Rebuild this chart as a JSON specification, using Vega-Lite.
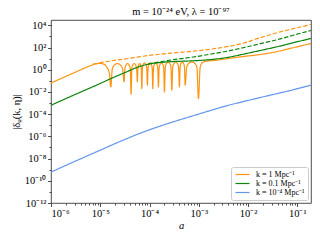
{
  "$schema": "https://vega.github.io/schema/vega-lite/v6.json",
  "autosize": {"type": "none"},
  "padding": {"left": 51, "top": 20, "right": 9, "bottom": 37},
  "width": 260,
  "height": 183,
  "title": {"text": "m = 10⁻²⁴ eV,  λ = 10⁻⁹⁷", "font": "Liberation Serif", "fontSize": 10.5, "fontWeight": "normal", "color": "black", "offset": 3},
  "data": {"values": [
    {"a": 1e-6, "delta": 0.0634, "k": "k = 1 Mpc⁻¹", "line": "solid"},
    {"a": 3.074e-6, "delta": 0.583, "k": "k = 1 Mpc⁻¹", "line": "solid"},
    {"a": 6.204e-6, "delta": 2.244, "k": "k = 1 Mpc⁻¹", "line": "solid"},
    {"a": 7.841e-6, "delta": 3.266, "k": "k = 1 Mpc⁻¹", "line": "solid"},
    {"a": 9.907e-6, "delta": 3.70, "k": "k = 1 Mpc⁻¹", "line": "solid"},
    {"a": 1.195e-5, "delta": 3.13, "k": "k = 1 Mpc⁻¹", "line": "solid"},
    {"a": 1.375e-5, "delta": 1.578, "k": "k = 1 Mpc⁻¹", "line": "solid"},
    {"a": 1.531e-5, "delta": 0.484, "k": "k = 1 Mpc⁻¹", "line": "solid"},
    {"a": 1.634e-5, "delta": 0.0282, "k": "k = 1 Mpc⁻¹", "line": "solid"},
    {"a": 1.762e-5, "delta": 1.28, "k": "k = 1 Mpc⁻¹", "line": "solid"},
    {"a": 1.971e-5, "delta": 2.82, "k": "k = 1 Mpc⁻¹", "line": "solid"},
    {"a": 2.232e-5, "delta": 3.62, "k": "k = 1 Mpc⁻¹", "line": "solid"},
    {"a": 2.526e-5, "delta": 2.82, "k": "k = 1 Mpc⁻¹", "line": "solid"},
    {"a": 2.826e-5, "delta": 1.28, "k": "k = 1 Mpc⁻¹", "line": "solid"},
    {"a": 3.046e-5, "delta": 0.0796, "k": "k = 1 Mpc⁻¹", "line": "solid"},
    {"a": 3.168e-5, "delta": 1.28, "k": "k = 1 Mpc⁻¹", "line": "solid"},
    {"a": 3.360e-5, "delta": 2.82, "k": "k = 1 Mpc⁻¹", "line": "solid"},
    {"a": 3.589e-5, "delta": 3.62, "k": "k = 1 Mpc⁻¹", "line": "solid"},
    {"a": 3.831e-5, "delta": 2.82, "k": "k = 1 Mpc⁻¹", "line": "solid"},
    {"a": 4.063e-5, "delta": 1.28, "k": "k = 1 Mpc⁻¹", "line": "solid"},
    {"a": 4.227e-5, "delta": 0.00621, "k": "k = 1 Mpc⁻¹", "line": "solid"},
    {"a": 4.380e-5, "delta": 1.28, "k": "k = 1 Mpc⁻¹", "line": "solid"},
    {"a": 4.618e-5, "delta": 2.82, "k": "k = 1 Mpc⁻¹", "line": "solid"},
    {"a": 4.898e-5, "delta": 3.62, "k": "k = 1 Mpc⁻¹", "line": "solid"},
    {"a": 5.196e-5, "delta": 2.82, "k": "k = 1 Mpc⁻¹", "line": "solid"},
    {"a": 5.477e-5, "delta": 1.28, "k": "k = 1 Mpc⁻¹", "line": "solid"},
    {"a": 5.676e-5, "delta": 0.0796, "k": "k = 1 Mpc⁻¹", "line": "solid"},
    {"a": 5.818e-5, "delta": 1.28, "k": "k = 1 Mpc⁻¹", "line": "solid"},
    {"a": 6.039e-5, "delta": 2.82, "k": "k = 1 Mpc⁻¹", "line": "solid"},
    {"a": 6.293e-5, "delta": 3.62, "k": "k = 1 Mpc⁻¹", "line": "solid"},
    {"a": 6.557e-5, "delta": 2.82, "k": "k = 1 Mpc⁻¹", "line": "solid"},
    {"a": 6.803e-5, "delta": 1.28, "k": "k = 1 Mpc⁻¹", "line": "solid"},
    {"a": 6.974e-5, "delta": 0.0202, "k": "k = 1 Mpc⁻¹", "line": "solid"},
    {"a": 7.196e-5, "delta": 1.45, "k": "k = 1 Mpc⁻¹", "line": "solid"},
    {"a": 7.543e-5, "delta": 3.20, "k": "k = 1 Mpc⁻¹", "line": "solid"},
    {"a": 7.950e-5, "delta": 4.10, "k": "k = 1 Mpc⁻¹", "line": "solid"},
    {"a": 8.378e-5, "delta": 3.20, "k": "k = 1 Mpc⁻¹", "line": "solid"},
    {"a": 8.785e-5, "delta": 1.45, "k": "k = 1 Mpc⁻¹", "line": "solid"},
    {"a": 9.064e-5, "delta": 0.0402, "k": "k = 1 Mpc⁻¹", "line": "solid"},
    {"a": 9.344e-5, "delta": 1.45, "k": "k = 1 Mpc⁻¹", "line": "solid"},
    {"a": 9.777e-5, "delta": 3.20, "k": "k = 1 Mpc⁻¹", "line": "solid"},
    {"a": 1.0285e-4, "delta": 4.10, "k": "k = 1 Mpc⁻¹", "line": "solid"},
    {"a": 1.082e-4, "delta": 3.20, "k": "k = 1 Mpc⁻¹", "line": "solid"},
    {"a": 1.132e-4, "delta": 1.45, "k": "k = 1 Mpc⁻¹", "line": "solid"},
    {"a": 1.167e-4, "delta": 0.0202, "k": "k = 1 Mpc⁻¹", "line": "solid"},
    {"a": 1.204e-4, "delta": 1.45, "k": "k = 1 Mpc⁻¹", "line": "solid"},
    {"a": 1.262e-4, "delta": 3.20, "k": "k = 1 Mpc⁻¹", "line": "solid"},
    {"a": 1.330e-4, "delta": 4.10, "k": "k = 1 Mpc⁻¹", "line": "solid"},
    {"a": 1.402e-4, "delta": 3.20, "k": "k = 1 Mpc⁻¹", "line": "solid"},
    {"a": 1.470e-4, "delta": 1.45, "k": "k = 1 Mpc⁻¹", "line": "solid"},
    {"a": 1.517e-4, "delta": 0.0282, "k": "k = 1 Mpc⁻¹", "line": "solid"},
    {"a": 1.569e-4, "delta": 1.45, "k": "k = 1 Mpc⁻¹", "line": "solid"},
    {"a": 1.650e-4, "delta": 3.20, "k": "k = 1 Mpc⁻¹", "line": "solid"},
    {"a": 1.746e-4, "delta": 4.10, "k": "k = 1 Mpc⁻¹", "line": "solid"},
    {"a": 1.847e-4, "delta": 3.20, "k": "k = 1 Mpc⁻¹", "line": "solid"},
    {"a": 1.942e-4, "delta": 1.45, "k": "k = 1 Mpc⁻¹", "line": "solid"},
    {"a": 2.008e-4, "delta": 0.01, "k": "k = 1 Mpc⁻¹", "line": "solid"},
    {"a": 2.094e-4, "delta": 1.79, "k": "k = 1 Mpc⁻¹", "line": "solid"},
    {"a": 2.228e-4, "delta": 3.94, "k": "k = 1 Mpc⁻¹", "line": "solid"},
    {"a": 2.388e-4, "delta": 5.05, "k": "k = 1 Mpc⁻¹", "line": "solid"},
    {"a": 2.559e-4, "delta": 3.94, "k": "k = 1 Mpc⁻¹", "line": "solid"},
    {"a": 2.724e-4, "delta": 1.79, "k": "k = 1 Mpc⁻¹", "line": "solid"},
    {"a": 2.840e-4, "delta": 0.01422, "k": "k = 1 Mpc⁻¹", "line": "solid"},
    {"a": 2.963e-4, "delta": 1.79, "k": "k = 1 Mpc⁻¹", "line": "solid"},
    {"a": 3.159e-4, "delta": 3.94, "k": "k = 1 Mpc⁻¹", "line": "solid"},
    {"a": 3.392e-4, "delta": 5.05, "k": "k = 1 Mpc⁻¹", "line": "solid"},
    {"a": 3.642e-4, "delta": 3.94, "k": "k = 1 Mpc⁻¹", "line": "solid"},
    {"a": 3.884e-4, "delta": 1.79, "k": "k = 1 Mpc⁻¹", "line": "solid"},
    {"a": 4.053e-4, "delta": 0.0282, "k": "k = 1 Mpc⁻¹", "line": "solid"},
    {"a": 4.184e-4, "delta": 1.79, "k": "k = 1 Mpc⁻¹", "line": "solid"},
    {"a": 4.391e-4, "delta": 3.94, "k": "k = 1 Mpc⁻¹", "line": "solid"},
    {"a": 4.632e-4, "delta": 5.05, "k": "k = 1 Mpc⁻¹", "line": "solid"},
    {"a": 4.884e-4, "delta": 3.94, "k": "k = 1 Mpc⁻¹", "line": "solid"},
    {"a": 5.126e-4, "delta": 1.79, "k": "k = 1 Mpc⁻¹", "line": "solid"},
    {"a": 5.292e-4, "delta": 0.0402, "k": "k = 1 Mpc⁻¹", "line": "solid"},
    {"a": 5.703e-4, "delta": 1.79, "k": "k = 1 Mpc⁻¹", "line": "solid"},
    {"a": 6.381e-4, "delta": 3.94, "k": "k = 1 Mpc⁻¹", "line": "solid"},
    {"a": 7.222e-4, "delta": 5.05, "k": "k = 1 Mpc⁻¹", "line": "solid"},
    {"a": 8.177e-4, "delta": 3.94, "k": "k = 1 Mpc⁻¹", "line": "solid"},
    {"a": 9.150e-4, "delta": 1.79, "k": "k = 1 Mpc⁻¹", "line": "solid"},
    {"a": 9.861e-4, "delta": 0.00254, "k": "k = 1 Mpc⁻¹", "line": "solid"},
    {"a": 1.068e-3, "delta": 1.68, "k": "k = 1 Mpc⁻¹", "line": "solid"},
    {"a": 1.173e-3, "delta": 4.28, "k": "k = 1 Mpc⁻¹", "line": "solid"},
    {"a": 1.414e-3, "delta": 5.83, "k": "k = 1 Mpc⁻¹", "line": "solid"},
    {"a": 2.154e-3, "delta": 6.88, "k": "k = 1 Mpc⁻¹", "line": "solid"},
    {"a": 3.725e-3, "delta": 9.79, "k": "k = 1 Mpc⁻¹", "line": "solid"},
    {"a": 7.987e-3, "delta": 15.45, "k": "k = 1 Mpc⁻¹", "line": "solid"},
    {"a": 1.770e-2, "delta": 23.4, "k": "k = 1 Mpc⁻¹", "line": "solid"},
    {"a": 3.922e-2, "delta": 43.6, "k": "k = 1 Mpc⁻¹", "line": "solid"},
    {"a": 8.293e-2, "delta": 95.9, "k": "k = 1 Mpc⁻¹", "line": "solid"},
    {"a": 0.19, "delta": 229, "k": "k = 1 Mpc⁻¹", "line": "solid"},
    {"a": 7.139e-6, "delta": 3.13, "k": "k = 1 Mpc⁻¹", "line": "dashed"},
    {"a": 9.907e-6, "delta": 4.28, "k": "k = 1 Mpc⁻¹", "line": "dashed"},
    {"a": 1.582e-5, "delta": 6.08, "k": "k = 1 Mpc⁻¹", "line": "dashed"},
    {"a": 3.456e-5, "delta": 9.79, "k": "k = 1 Mpc⁻¹", "line": "dashed"},
    {"a": 7.413e-5, "delta": 16.4, "k": "k = 1 Mpc⁻¹", "line": "dashed"},
    {"a": 1.642e-4, "delta": 24.9, "k": "k = 1 Mpc⁻¹", "line": "dashed"},
    {"a": 3.472e-4, "delta": 34.0, "k": "k = 1 Mpc⁻¹", "line": "dashed"},
    {"a": 7.695e-4, "delta": 46.4, "k": "k = 1 Mpc⁻¹", "line": "dashed"},
    {"a": 1.704e-3, "delta": 70.3, "k": "k = 1 Mpc⁻¹", "line": "dashed"},
    {"a": 3.725e-3, "delta": 118, "k": "k = 1 Mpc⁻¹", "line": "dashed"},
    {"a": 7.987e-3, "delta": 244, "k": "k = 1 Mpc⁻¹", "line": "dashed"},
    {"a": 1.770e-2, "delta": 764, "k": "k = 1 Mpc⁻¹", "line": "dashed"},
    {"a": 3.922e-2, "delta": 2153, "k": "k = 1 Mpc⁻¹", "line": "dashed"},
    {"a": 8.293e-2, "delta": 4943, "k": "k = 1 Mpc⁻¹", "line": "dashed"},
    {"a": 0.19, "delta": 11800, "k": "k = 1 Mpc⁻¹", "line": "dashed"},
    {"a": 1e-6, "delta": 6.34e-4, "k": "k = 0.1 Mpc⁻¹", "line": "solid"},
    {"a": 3.074e-6, "delta": 5.83e-3, "k": "k = 0.1 Mpc⁻¹", "line": "solid"},
    {"a": 9.907e-6, "delta": 0.0571, "k": "k = 0.1 Mpc⁻¹", "line": "solid"},
    {"a": 1.999e-5, "delta": 0.234, "k": "k = 0.1 Mpc⁻¹", "line": "solid"},
    {"a": 3.192e-5, "delta": 0.560, "k": "k = 0.1 Mpc⁻¹", "line": "solid"},
    {"a": 4.642e-5, "delta": 1.156, "k": "k = 0.1 Mpc⁻¹", "line": "solid"},
    {"a": 6.750e-5, "delta": 2.153, "k": "k = 0.1 Mpc⁻¹", "line": "solid"},
    {"a": 1.0285e-4, "delta": 3.40, "k": "k = 0.1 Mpc⁻¹", "line": "solid"},
    {"a": 1.642e-4, "delta": 4.45, "k": "k = 0.1 Mpc⁻¹", "line": "solid"},
    {"a": 2.622e-4, "delta": 5.26, "k": "k = 0.1 Mpc⁻¹", "line": "solid"},
    {"a": 6.686e-4, "delta": 6.21, "k": "k = 0.1 Mpc⁻¹", "line": "solid"},
    {"a": 1.704e-3, "delta": 8.13, "k": "k = 0.1 Mpc⁻¹", "line": "solid"},
    {"a": 3.725e-3, "delta": 12.56, "k": "k = 0.1 Mpc⁻¹", "line": "solid"},
    {"a": 7.987e-3, "delta": 24.9, "k": "k = 0.1 Mpc⁻¹", "line": "solid"},
    {"a": 1.770e-2, "delta": 53.7, "k": "k = 0.1 Mpc⁻¹", "line": "solid"},
    {"a": 3.922e-2, "delta": 118, "k": "k = 0.1 Mpc⁻¹", "line": "solid"},
    {"a": 8.293e-2, "delta": 271, "k": "k = 0.1 Mpc⁻¹", "line": "solid"},
    {"a": 0.19, "delta": 647, "k": "k = 0.1 Mpc⁻¹", "line": "solid"},
    {"a": 9.365e-5, "delta": 3.266, "k": "k = 0.1 Mpc⁻¹", "line": "dashed"},
    {"a": 1.642e-4, "delta": 5.15, "k": "k = 0.1 Mpc⁻¹", "line": "dashed"},
    {"a": 3.313e-4, "delta": 8.47, "k": "k = 0.1 Mpc⁻¹", "line": "dashed"},
    {"a": 7.695e-4, "delta": 13.9, "k": "k = 0.1 Mpc⁻¹", "line": "dashed"},
    {"a": 1.704e-3, "delta": 24.9, "k": "k = 0.1 Mpc⁻¹", "line": "dashed"},
    {"a": 3.725e-3, "delta": 46.4, "k": "k = 0.1 Mpc⁻¹", "line": "dashed"},
    {"a": 7.987e-3, "delta": 95.9, "k": "k = 0.1 Mpc⁻¹", "line": "dashed"},
    {"a": 1.770e-2, "delta": 220, "k": "k = 0.1 Mpc⁻¹", "line": "dashed"},
    {"a": 3.922e-2, "delta": 505, "k": "k = 0.1 Mpc⁻¹", "line": "dashed"},
    {"a": 8.293e-2, "delta": 1283, "k": "k = 0.1 Mpc⁻¹", "line": "dashed"},
    {"a": 0.19, "delta": 3404, "k": "k = 0.1 Mpc⁻¹", "line": "dashed"},
    {"a": 1e-6, "delta": 6.08e-10, "k": "k = 10⁻⁴ Mpc⁻¹", "line": "solid"},
    {"a": 3.074e-6, "delta": 5.71e-9, "k": "k = 10⁻⁴ Mpc⁻¹", "line": "solid"},
    {"a": 9.907e-6, "delta": 5.60e-8, "k": "k = 10⁻⁴ Mpc⁻¹", "line": "solid"},
    {"a": 2.526e-5, "delta": 3.47e-7, "k": "k = 10⁻⁴ Mpc⁻¹", "line": "solid"},
    {"a": 8.813e-5, "delta": 3.20e-6, "k": "k = 10⁻⁴ Mpc⁻¹", "line": "solid"},
    {"a": 3.313e-4, "delta": 2.29e-5, "k": "k = 10⁻⁴ Mpc⁻¹", "line": "solid"},
    {"a": 7.695e-4, "delta": 7.18e-5, "k": "k = 10⁻⁴ Mpc⁻¹", "line": "solid"},
    {"a": 3.725e-3, "delta": 5.71e-4, "k": "k = 10⁻⁴ Mpc⁻¹", "line": "solid"},
    {"a": 1.770e-2, "delta": 3.13e-3, "k": "k = 10⁻⁴ Mpc⁻¹", "line": "solid"},
    {"a": 8.293e-2, "delta": 0.0158, "k": "k = 10⁻⁴ Mpc⁻¹", "line": "solid"},
    {"a": 0.19, "delta": 0.0402, "k": "k = 10⁻⁴ Mpc⁻¹", "line": "solid"}
  ]},
  "layer": [
    {
      "mark": {"type": "line", "interpolate": "monotone", "strokeWidth": 1.2, "strokeJoin": "round", "clip": true},
      "encoding": {
        "x": {"field": "a", "type": "quantitative",
          "scale": {"type": "log", "domain": [1e-6, 0.19], "nice": false},
          "axis": {"orient": "bottom", "values": [1e-6, 1e-5, 1e-4, 1e-3, 1e-2, 1e-1],
            "labelExpr": "datum.value < 2e-6 ? '10⁻⁶' : datum.value < 2e-5 ? '10⁻⁵' : datum.value < 2e-4 ? '10⁻⁴' : datum.value < 2e-3 ? '10⁻³' : datum.value < 2e-2 ? '10⁻²' : '10⁻¹'",
            "titleFontStyle": "italic", "titlePadding": 2},
          "title": "a"},
        "y": {"field": "delta", "type": "quantitative",
          "scale": {"type": "log", "domain": [1e-12, 30000], "nice": false},
          "axis": {"orient": "left", "values": [1e-12, 1e-10, 1e-8, 1e-6, 1e-4, 1e-2, 1, 100, 10000],
            "labelExpr": "datum.value < 1e-11 ? '10⁻¹²' : datum.value < 1e-9 ? '10⁻¹⁰' : datum.value < 1e-7 ? '10⁻⁸' : datum.value < 1e-5 ? '10⁻⁶' : datum.value < 1e-3 ? '10⁻⁴' : datum.value < 0.1 ? '10⁻²' : datum.value < 10 ? '10⁰' : datum.value < 1000 ? '10²' : '10⁴'",
            "titlePadding": 3},
          "title": "|δᵩ(k, η)|"},
        "color": {"field": "k", "type": "nominal",
          "scale": {"domain": ["k = 1 Mpc⁻¹", "k = 0.1 Mpc⁻¹", "k = 10⁻⁴ Mpc⁻¹"], "range": ["#ff9412", "#0a850a", "#6495ed"]},
          "legend": {"orient": "bottom-right", "title": null, "offset": 3, "fillColor": "white", "strokeColor": "#cccccc", "cornerRadius": 2, "padding": 3, "labelFontSize": 8, "labelFont": "Liberation Serif", "symbolType": "M-2,0H2", "symbolSize": 49, "symbolStrokeWidth": 1.2, "symbolOffset": 4, "rowPadding": 0, "labelOffset": 9, "labelLimit": 200}},
        "strokeDash": {"field": "line", "type": "nominal",
          "scale": {"domain": ["solid", "dashed"], "range": [[1, 0], [4.4, 1.9]]},
          "legend": null}
      }
    },
    {
      "mark": {"type": "point", "opacity": 0},
      "encoding": {
        "x": {"field": "a", "type": "quantitative",
          "axis": {"orient": "bottom", "values": [2e-6, 3e-6, 4e-6, 5e-6, 6e-6, 7e-6, 8e-6, 9e-6, 2e-5, 3e-5, 4e-5, 5e-5, 6e-5, 7e-5, 8e-5, 9e-5, 2e-4, 3e-4, 4e-4, 5e-4, 6e-4, 7e-4, 8e-4, 9e-4, 2e-3, 3e-3, 4e-3, 5e-3, 6e-3, 7e-3, 8e-3, 9e-3, 2e-2, 3e-2, 4e-2, 5e-2, 6e-2, 7e-2, 8e-2, 9e-2],
            "labels": false, "tickSize": 2, "title": null, "grid": false, "domain": false}},
        "y": {"field": "delta", "type": "quantitative",
          "axis": {"orient": "left", "values": [1e-11, 1e-9, 1e-7, 1e-5, 1e-3, 0.1, 10, 1000],
            "labels": false, "tickSize": 2, "title": null, "grid": false, "domain": false}}
      }
    }
  ],
  "resolve": {"axis": {"x": "independent", "y": "independent"}},
  "config": {
    "font": "Liberation Serif",
    "view": {"stroke": "#222222", "strokeWidth": 0.8},
    "axis": {"domain": false, "grid": false, "labelFont": "Liberation Serif", "labelFontSize": 10.5, "labelColor": "black", "tickColor": "#222222", "tickWidth": 0.8, "tickSize": 3.5, "labelPadding": 1.5, "titleFont": "Liberation Serif", "titleFontSize": 10.5, "titleFontWeight": "normal", "titleColor": "black"}
  }
}
